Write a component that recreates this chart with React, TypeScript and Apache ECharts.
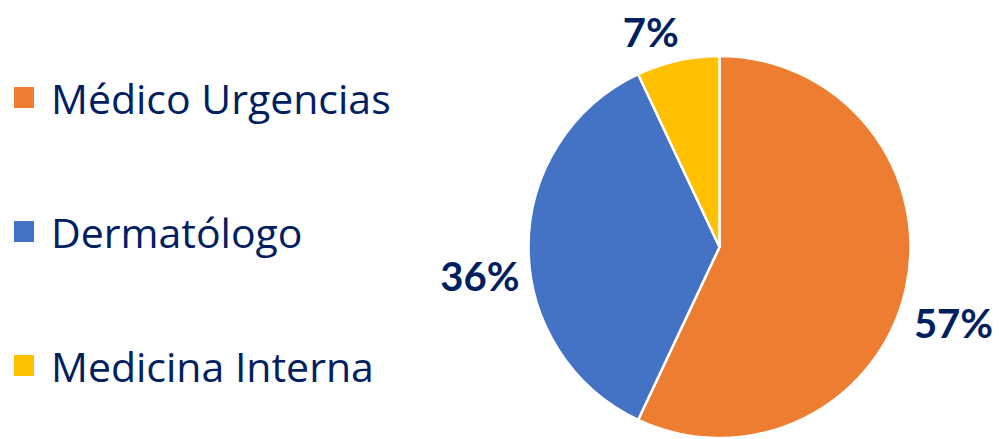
import React, { useEffect, useRef } from "react";
import * as echarts from "echarts";

const categories = ["Médico Urgencias", "Dermatólogo", "Medicina Interna"];
const values = [57, 36, 7];
const colors = ["#ED7D31", "#4472C4", "#FFC000"];

// label nudges (styling only), px
const labelOffsets = [
  [8, 34],
  [-9, 29],
  [1, -29],
];

const textColor = "#002060";

export default function App() {
  const ref = useRef<HTMLDivElement>(null);

  useEffect(() => {
    if (!ref.current) return;
    const chart = echarts.init(ref.current, null, { renderer: "svg" });
    chart.setOption({
      animation: false,
      backgroundColor: "#ffffff",
      color: colors,
      legend: {
        orient: "vertical",
        left: 7,
        top: 72,
        icon: "rect",
        itemWidth: 22,
        itemHeight: 23,
        itemGap: 93,
        data: categories,
        textStyle: {
          fontFamily: "Open Sans",
          fontSize: 41,
          color: textColor,
          lineHeight: 40,
          padding: [0, 0, 0, 11],
        },
      },
      series: [
        {
          type: "pie",
          center: [719.5, 247],
          radius: 191,
          startAngle: 90,
          clockwise: true,
          avoidLabelOverlap: false,
          itemStyle: { borderColor: "#ffffff", borderWidth: 2.5 },
          label: {
            show: true,
            position: "outside",
            formatter: "{c}%",
            fontFamily: "Lato",
            fontWeight: "bold",
            fontSize: 40,
            color: textColor,
            distanceToLabelLine: 0,
          },
          labelLine: { show: false, length: 0, length2: 0 },
          labelLayout: (p: any) => ({
            dx: labelOffsets[p.dataIndex][0],
            dy: labelOffsets[p.dataIndex][1],
          }),
          emphasis: { disabled: true },
          data: categories.map((name, i) => ({ name, value: values[i] })),
        },
      ],
    });
    return () => chart.dispose();
  }, []);

  return (
    <div
      ref={ref}
      style={{ position: "absolute", left: 0, top: 0, width: 999, height: 439 }}
    />
  );
}
